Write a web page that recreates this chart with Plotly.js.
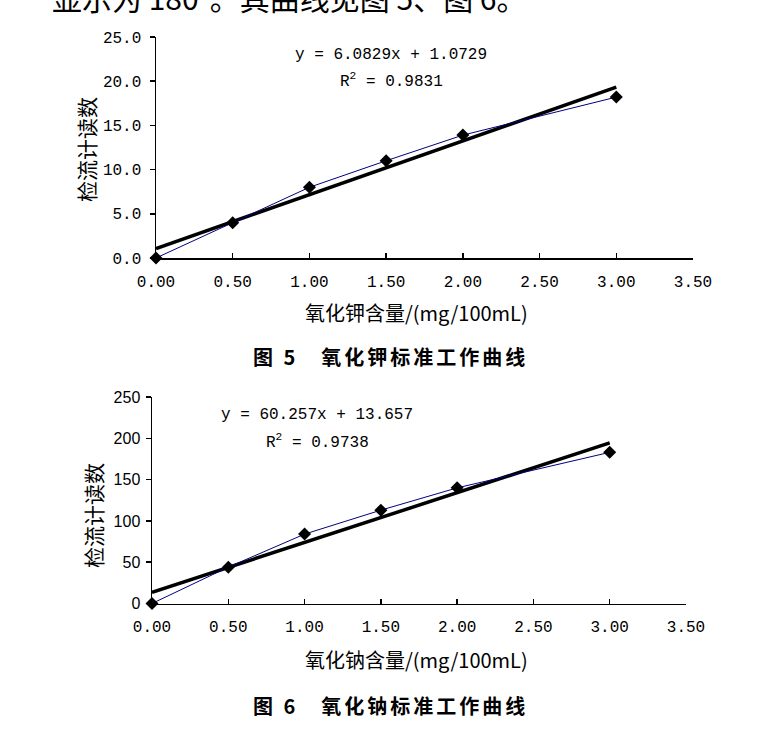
<!DOCTYPE html>
<html>
<head>
<meta charset="utf-8">
<script src="https://cdn.plot.ly/plotly-3.0.1.min.js"></script>
<style>
html,body{margin:0;padding:0;background:#fff;}
#chart{width:758px;height:730px;}
</style>
</head>
<body>
<div id="chart"></div>
<script>
// ---- Data ----
const kX = [0, 0.5, 1.0, 1.5, 2.0, 3.0];
const kY = [0, 4.0, 8.0, 11.0, 13.9, 18.2];
const kTrendX = [0, 3.0];
const kTrendY = [1.0729, 19.3216];
const kEquation = "y = 6.0829x + 1.0729";
const kR2 = "R<sup>2</sup> = 0.9831";

const naX = [0, 0.5, 1.0, 1.5, 2.0, 3.0];
const naY = [0, 44, 84, 113, 140, 183];
const naTrendX = [0, 3.0];
const naTrendY = [13.657, 194.428];
const naEquation = "y = 60.257x + 13.657";
const naR2 = "R<sup>2</sup> = 0.9738";

const xTickVals = [0, 0.5, 1.0, 1.5, 2.0, 2.5, 3.0, 3.5];
const xTickText = ["0.00", "0.50", "1.00", "1.50", "2.00", "2.50", "3.00", "3.50"];
const kYTickVals = [0, 5, 10, 15, 20, 25];
const kYTickText = ["0.0", "5.0", "10.0", "15.0", "20.0", "25.0"];
const naYTickVals = [0, 50, 100, 150, 200, 250];
const naYTickText = ["0", "50", "100", "150", "200", "250"];

const yTitle = "检流计读数";
const kXTitle = "氧化钾含量/(mg/100mL)";
const naXTitle = "氧化钠含量/(mg/100mL)";
const kCaption = "图 5　氧化钾标准工作曲线";
const naCaption = "图 6　氧化钠标准工作曲线";
const topText = "显示为 180°。其曲线见图 5、图 6。";

// ---- Layout helpers ----
const W = 758, H = 730;
const px = v => v / W;
const py = v => 1 - v / H;

const mono = "Liberation Mono, DejaVu Sans Mono, monospace";
const cjk = "Noto Sans CJK SC, sans-serif";

function dataLine(x, y, xa, ya) {
  return {x: x, y: y, xaxis: xa, yaxis: ya, type: "scatter", mode: "lines+markers",
    line: {color: "#000080", width: 1},
    marker: {symbol: "diamond", size: 10, color: "#000000"},
    cliponaxis: false, hoverinfo: "skip"};
}
function trendLine(x, y, xa, ya) {
  return {x: x, y: y, xaxis: xa, yaxis: ya, type: "scatter", mode: "lines",
    line: {color: "#000000", width: 3.5}, cliponaxis: false, hoverinfo: "skip"};
}

const traces = [
  trendLine(kTrendX, kTrendY, "x", "y"),
  dataLine(kX, kY, "x", "y"),
  trendLine(naTrendX, naTrendY, "x2", "y2"),
  dataLine(naX, naY, "x2", "y2")
];

function xAxis(domain, anchor) {
  return {domain: domain, anchor: anchor, range: [0, 3.5], showgrid: false, zeroline: false,
    showline: true, linecolor: "#000", linewidth: 1.5,
    ticks: "inside", ticklen: 5, tickwidth: 1.5, tickcolor: "#000",
    tickvals: xTickVals, ticktext: xTickText, ticklabelstandoff: 8,
    tickfont: {family: mono, size: 16, color: "#000"}, fixedrange: true};
}
function yAxis(domain, anchor, range, vals, text, font, standoff) {
  return {domain: domain, anchor: anchor, range: range, showgrid: false, zeroline: false,
    showline: true, linecolor: "#000", linewidth: 1.5,
    ticks: "outside", ticklen: 5, tickwidth: 1.5, tickcolor: "#000",
    tickvals: vals, ticktext: text, tickfont: font, ticklabelstandoff: standoff, fixedrange: true};
}

function ann(text, x, y, font, extra) {
  return Object.assign({text: text, xref: "paper", yref: "paper", x: px(x), y: py(y),
    xanchor: "center", yanchor: "middle", showarrow: false, font: font}, extra || {});
}
const spaced = t => '<span style="letter-spacing:3px">' + t + '</span>';

const annotations = [
  ann(topText, 50, -3, {family: cjk, size: 30, color: "#000"}, {xanchor: "left"}),
  ann(kEquation, 391, 55, {family: mono, size: 16, color: "#000"}),
  ann(kR2, 391, 80, {family: mono, size: 16, color: "#000"}),
  ann(yTitle, 86, 150, {family: cjk, size: 21, color: "#000"}, {textangle: -90}),
  ann(kXTitle, 416, 312, {family: cjk, size: 20, color: "#000"}),
  ann(spaced(kCaption), 390, 356, {family: cjk, size: 20, color: "#000", weight: "bold"}),
  ann(naEquation, 317, 415, {family: mono, size: 16, color: "#000"}),
  ann(naR2, 317, 442, {family: mono, size: 16, color: "#000"}),
  ann(yTitle, 93, 516, {family: cjk, size: 21, color: "#000"}, {textangle: -90}),
  ann(naXTitle, 416, 659, {family: cjk, size: 20, color: "#000"}),
  ann(spaced(naCaption), 390, 705, {family: cjk, size: 20, color: "#000", weight: "bold"})
];

const layout = {
  width: W, height: H, margin: {l: 0, r: 0, t: 0, b: 0},
  paper_bgcolor: "#fff", plot_bgcolor: "#fff", showlegend: false,
  xaxis: xAxis([px(156), px(693)], "y"),
  yaxis: yAxis([py(258), py(37)], "x", [0, 25], kYTickVals, kYTickText, {family: mono, size: 16, color: "#000"}, 5),
  xaxis2: xAxis([px(152), px(686)], "y2"),
  yaxis2: yAxis([py(603.5), py(397)], "x2", [0, 250], naYTickVals, naYTickText, {family: "Liberation Sans, Arial, sans-serif", size: 16, color: "#000"}, 2),
  annotations: annotations
};

Plotly.newPlot("chart", traces, layout, {staticPlot: true, displayModeBar: false});
</script>
</body>
</html>
